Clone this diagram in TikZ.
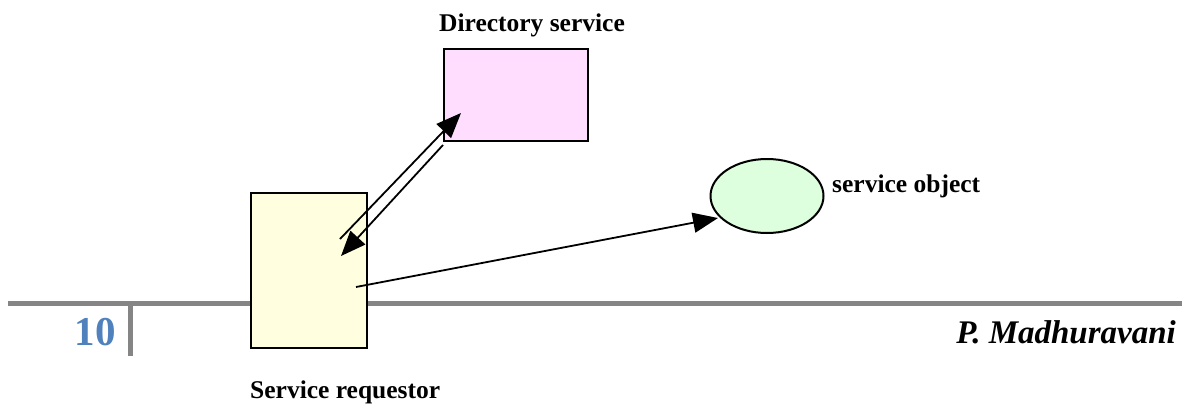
\documentclass[tikz,border=0pt]{standalone}
\usepackage{fontspec}
\setmainfont{Liberation Serif}
\usetikzlibrary{arrows.meta,shapes.geometric}
\definecolor{rulegray}{HTML}{858585}
\definecolor{numblue}{HTML}{4F81BD}
\definecolor{reqfill}{HTML}{FFFFDF}
\definecolor{dirfill}{HTML}{FFDDFF}
\definecolor{objfill}{HTML}{DDFFDD}
\tikzset{
  box/.style={draw=black, line width=2.4pt, inner sep=0pt},
  lbl/.style={font=\bfseries\fontsize{25.5}{28}\selectfont, inner sep=0pt},
  conn/.style={line width=1.8pt, -{Triangle[length=25pt,width=20pt]}},
  rulel/.style={draw=rulegray, line width=5pt}
}
\begin{document}
\begin{tikzpicture}[x=1pt,y=-1pt]
\useasboundingbox (0,0) rectangle (1182,405);
% footer rule
\draw[rulel] (8,303) -- (1182,303);
\draw[rulel] (130,303) -- (130,356);
\node[text=numblue, font=\bfseries\fontsize{41}{44}\selectfont, inner sep=0pt] (num) at (95,332) {10};
\node[font=\bfseries\itshape\fontsize{33}{36}\selectfont, inner sep=0pt, anchor=east] (auth) at (1176,332) {P. Madhuravani};
% boxes
\node[box, fill=reqfill, minimum width=116pt, minimum height=155pt] (req) at (309,270.5) {};
\node[box, fill=dirfill, minimum width=144pt, minimum height=92pt] (dir) at (516,95) {};
\node[draw=black, line width=2pt, fill=objfill, ellipse, minimum width=113pt, minimum height=74pt, inner sep=0pt] (obj) at (767,196) {};
% labels
\node[lbl] (dirl) at (532,25) {Directory service};
\node[lbl, anchor=west] (objl) at (832,186) {service object};
\node[lbl, anchor=west] (reql) at (250,392) {Service requestor};
% connector end points
\coordinate (a1) at (340,239);
\coordinate (a2) at (461,113);
\coordinate (b1) at (443,145);
\coordinate (b2) at (341,256);
\coordinate (c1) at (356,287);
\coordinate (c2) at (718,218);
\draw[conn] (a1) -- (a2);
\draw[conn] (b1) -- (b2);
\draw[conn] (c1) -- (c2);
\end{tikzpicture}
\end{document}
